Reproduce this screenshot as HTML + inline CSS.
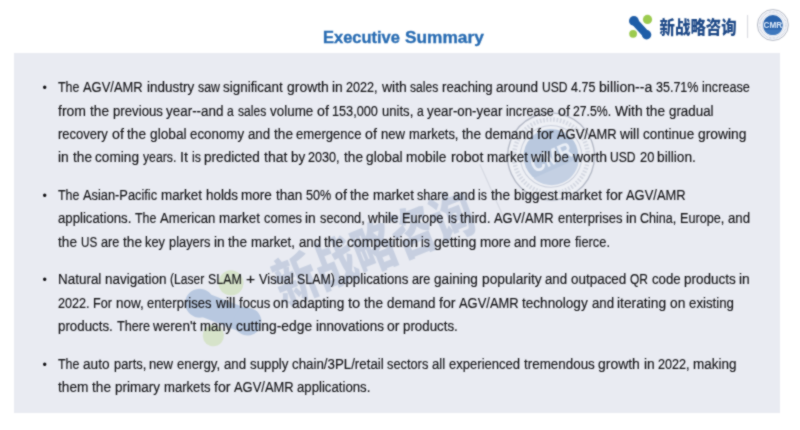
<!DOCTYPE html>
<html lang="en">
<head>
<meta charset="utf-8">
<title>Executive Summary</title>
<style>
  html,body{margin:0;padding:0;background:#fff;}
  body{width:800px;height:430px;position:relative;overflow:hidden;font-family:"Liberation Sans","Noto Sans CJK SC",sans-serif;}
  .title{position:absolute;left:0;top:26.56px;margin:0;font-size:15.7px;line-height:22px;height:22px;font-weight:bold;color:#2a6db3;-webkit-text-stroke:0.35px #2a6db3;white-space:nowrap;}
  .title span{position:absolute;top:0;transform-origin:0 0;white-space:pre;}
  .panel{position:absolute;left:14px;top:53px;width:766px;height:360px;background:#e9ebf2;}
  .wm,.logo{position:absolute;left:0;top:0;width:800px;height:430px;}
  ul{list-style:none;margin:0;padding:0;}
  .stage{position:absolute;left:0;top:0;width:800px;height:430px;overflow:hidden;background:#fff;filter:url(#soft);}
  .fdef{position:absolute;width:0;height:0;}
  li{display:block;}
  .ln{position:absolute;left:0;height:20px;line-height:20px;font-size:13.8px;color:#141417;white-space:nowrap;-webkit-text-stroke:0.15px #141417;}
  .ln span{position:absolute;top:0;transform-origin:0 0;white-space:pre;}
  .bl{position:absolute;left:39.6px;width:10px;height:20px;line-height:20px;font-size:12.5px;color:#141417;text-align:center;}
</style>
</head>
<body>
<svg class="fdef" width="0" height="0" aria-hidden="true"><filter id="soft" filterUnits="userSpaceOnUse" x="0" y="0" width="800" height="430" color-interpolation-filters="sRGB"><feConvolveMatrix order="3" kernelMatrix="1 2 1 2 10 2 1 2 1" edgeMode="duplicate" preserveAlpha="true"/></filter></svg>
<div class="stage">
<h1 class="title"><span style="left:322.8px;transform:scaleX(1.05)">Executive </span><span style="left:405.1px;transform:scaleX(1.102)">Summary</span></h1>
<div class="panel"></div>
<svg class="wm" viewBox="0 0 800 430" aria-hidden="true">
 <g opacity="0.24" transform="translate(223,311) rotate(-26.5) scale(2.73) translate(-640.3,-27.3)">
    <line x1="634.2" y1="21.2" x2="646.3" y2="34.5" stroke="#1f5ea8" stroke-width="8.8" stroke-linecap="round"/>
    <circle cx="633.9" cy="20.9" r="5.3" fill="#1f5ea8"/>
    <circle cx="646.6" cy="34.8" r="5.1" fill="#1f5ea8"/>
    <circle cx="647.5" cy="19.4" r="4.6" fill="#9ccb4f"/>
    <circle cx="633.1" cy="33.8" r="3.9" fill="#9ccb4f"/>
 </g>
 <g opacity="0.165" transform="translate(373.8,248.0) rotate(-21.8) scale(2.73,3.3852)">
    <text x="-38.64" y="5.92" font-family="'Liberation Sans','Noto Sans CJK SC',sans-serif" font-weight="900" font-size="16.0" fill="#1f4a88" textLength="77.29" lengthAdjust="spacingAndGlyphs">新战略咨询</text>
 </g>
 <g opacity="0.22" transform="translate(492.5,192.5) rotate(-24.0)">
    <line x1="0" y1="-31.0" x2="0" y2="31.0" stroke="#8f96a6" stroke-width="1.2"/>
 </g>
 <g opacity="1" transform="translate(551.0,156.4) rotate(-24.0) scale(2.8) translate(-772.9,-25)">
    <circle cx="772.9" cy="25" r="15.5" fill="#eef0f5" stroke="#b4b9c6" stroke-width="0.5"/>
    <circle cx="772.9" cy="25" r="13.2" fill="none" stroke="#d3d7e1" stroke-width="1.6" stroke-dasharray="0.6 0.6"/>
    <circle cx="772.9" cy="25" r="11.0" fill="none" stroke="#ccd1dd" stroke-width="0.4"/>
    <circle cx="772.9" cy="25" r="9.8" fill="#b9c8de"/>
    <path d="M764.0 29.6 A9.8 9.8 0 0 0 781.8 29.6 Z" fill="#c4d0e3"/>
    <text x="772.9" y="28.1" text-anchor="middle" font-family="'Liberation Sans',sans-serif" font-weight="bold" font-size="8.0" fill="#e9eef6" textLength="15.6" lengthAdjust="spacingAndGlyphs">CMR</text>
 </g>
</svg>
<svg class="logo" viewBox="0 0 800 430">
  <g>
    <line x1="634.2" y1="21.2" x2="646.3" y2="34.5" stroke="#1f5ea8" stroke-width="7.6" stroke-linecap="round"/>
    <circle cx="633.9" cy="20.9" r="4.9" fill="#1f5ea8"/>
    <circle cx="646.6" cy="34.8" r="4.7" fill="#1f5ea8"/>
    <circle cx="647.5" cy="19.4" r="4.6" fill="#9ccb4f"/>
    <circle cx="633.1" cy="33.8" r="3.9" fill="#9ccb4f"/>
    <text x="659.6" y="34.0" font-family="'Liberation Sans','Noto Sans CJK SC',sans-serif" font-weight="900" font-size="15.4" fill="#1f4a88" textLength="77" lengthAdjust="spacingAndGlyphs" transform="translate(0,34.0) scale(1,1.17) translate(0,-34.0)">新战略咨询</text>
    <line x1="747.6" y1="15" x2="747.6" y2="38" stroke="#c9ccd3" stroke-width="0.8"/>
    <circle cx="772.9" cy="25" r="15.5" fill="#f8f9fc" stroke="#a3a9b8" stroke-width="0.8"/>
    <circle cx="772.9" cy="25" r="13.1" fill="none" stroke="#c6ccdb" stroke-width="1.5" stroke-dasharray="0.7 0.7"/>
    <circle cx="772.9" cy="25" r="11.2" fill="none" stroke="#c3cadb" stroke-width="0.5"/>
    <circle cx="772.9" cy="25" r="9.9" fill="#2a64ad"/>
    <path d="M764.0 29.4 A9.9 9.9 0 0 0 781.8 29.4 Z" fill="#3f78bd"/>
    <text x="772.9" y="28.3" text-anchor="middle" font-family="'Liberation Sans',sans-serif" font-weight="bold" font-size="9.4" fill="#e4eefa" textLength="18.6" lengthAdjust="spacingAndGlyphs">CMR</text>
  </g>
</svg>
<ul>
<li><span class="bl" style="top:78.47px">&bull;</span><div class="ln" style="top:78.47px"><span style="left:58.30px;transform:scaleX(0.9017)">The </span><span style="left:83.39px;transform:scaleX(0.9369)">AGV/AMR </span><span style="left:146.65px;transform:scaleX(0.9783)">industry </span><span style="left:197.56px;transform:scaleX(0.8966)">saw </span><span style="left:223.21px;transform:scaleX(0.9736)">significant </span><span style="left:286.59px;transform:scaleX(1.0109)">growth </span><span style="left:332.11px;transform:scaleX(0.9989)">in </span><span style="left:346.49px;transform:scaleX(0.9137)">2022, </span><span style="left:381.68px;transform:scaleX(1.0122)">with </span><span style="left:410.17px;transform:scaleX(0.8761)">sales </span><span style="left:442.04px;transform:scaleX(0.9555)">reaching </span><span style="left:496.26px;transform:scaleX(0.9786)">around </span><span style="left:541.95px;transform:scaleX(0.8756)">USD </span><span style="left:571.11px;transform:scaleX(0.9079)">4.75 </span><span style="left:599.14px;transform:scaleX(1.0239)">billion--a </span><span style="left:656.19px;transform:scaleX(0.9066)">35.71% </span><span style="left:702.25px;transform:scaleX(0.9171)">increase</span></div>
<div class="ln" style="top:101.72px"><span style="left:58.30px;transform:scaleX(1.0161)">from </span><span style="left:89.99px;transform:scaleX(0.9894)">the </span><span style="left:112.62px;transform:scaleX(0.9575)">previous </span><span style="left:166.20px;transform:scaleX(0.9736)">year--and </span><span style="left:227.34px;transform:scaleX(0.8800)">a </span><span style="left:237.75px;transform:scaleX(0.8761)">sales </span><span style="left:269.62px;transform:scaleX(0.9739)">volume </span><span style="left:316.59px;transform:scaleX(1.0379)">of </span><span style="left:332.18px;transform:scaleX(0.9200)">153,000 </span><span style="left:381.71px;transform:scaleX(0.9485)">units, </span><span style="left:416.64px;transform:scaleX(0.8800)">a </span><span style="left:427.04px;transform:scaleX(0.9646)">year-on-year </span><span style="left:506.14px;transform:scaleX(0.9171)">increase </span><span style="left:557.61px;transform:scaleX(1.0379)">of </span><span style="left:573.21px;transform:scaleX(0.8877)">27.5%. </span><span style="left:614.99px;transform:scaleX(1.0017)">With </span><span style="left:646.29px;transform:scaleX(0.9894)">the </span><span style="left:668.92px;transform:scaleX(0.9679)">gradual</span></div>
<div class="ln" style="top:125.02px"><span style="left:58.30px;transform:scaleX(0.9427)">recovery </span><span style="left:111.82px;transform:scaleX(1.0379)">of </span><span style="left:127.41px;transform:scaleX(0.9894)">the </span><span style="left:150.03px;transform:scaleX(0.9949)">global </span><span style="left:190.32px;transform:scaleX(0.9659)">economy </span><span style="left:248.03px;transform:scaleX(0.9601)">and </span><span style="left:273.79px;transform:scaleX(0.9894)">the </span><span style="left:296.41px;transform:scaleX(0.9478)">emergence </span><span style="left:365.48px;transform:scaleX(1.0379)">of </span><span style="left:381.08px;transform:scaleX(0.9513)">new </span><span style="left:408.80px;transform:scaleX(0.9348)">markets, </span><span style="left:461.90px;transform:scaleX(0.9894)">the </span><span style="left:484.53px;transform:scaleX(0.9702)">demand </span><span style="left:536.54px;transform:scaleX(1.0293)">for </span><span style="left:556.76px;transform:scaleX(0.9369)">AGV/AMR </span><span style="left:620.03px;transform:scaleX(1.0047)">will </span><span style="left:642.93px;transform:scaleX(0.9808)">continue </span><span style="left:697.75px;transform:scaleX(1.0019)">growing</span></div>
<div class="ln" style="top:148.27px"><span style="left:58.30px;transform:scaleX(0.9989)">in </span><span style="left:72.68px;transform:scaleX(0.9894)">the </span><span style="left:95.31px;transform:scaleX(0.9885)">coming </span><span style="left:142.92px;transform:scaleX(0.8856)">years. </span><span style="left:179.84px;transform:scaleX(1.0485)">It </span><span style="left:191.53px;transform:scaleX(0.8890)">is </span><span style="left:204.03px;transform:scaleX(0.9846)">predicted </span><span style="left:263.56px;transform:scaleX(1.0121)">that </span><span style="left:290.50px;transform:scaleX(0.9753)">by </span><span style="left:308.36px;transform:scaleX(0.9137)">2030, </span><span style="left:343.55px;transform:scaleX(0.9894)">the </span><span style="left:366.18px;transform:scaleX(0.9949)">global </span><span style="left:406.46px;transform:scaleX(0.9956)">mobile </span><span style="left:450.58px;transform:scaleX(1.0343)">robot </span><span style="left:486.76px;transform:scaleX(0.9706)">market </span><span style="left:531.33px;transform:scaleX(1.0047)">will </span><span style="left:554.24px;transform:scaleX(0.9620)">be </span><span style="left:572.66px;transform:scaleX(1.0087)">worth </span><span style="left:610.34px;transform:scaleX(0.8756)">USD </span><span style="left:639.50px;transform:scaleX(0.9333)">20 </span><span style="left:657.48px;transform:scaleX(0.9939)">billion.</span></div>
</li>
<li><span class="bl" style="top:186.02px">&bull;</span><div class="ln" style="top:186.02px"><span style="left:58.30px;transform:scaleX(0.9017)">The </span><span style="left:83.39px;transform:scaleX(0.9295)">Asian-Pacific </span><span style="left:161.16px;transform:scaleX(0.9706)">market </span><span style="left:205.73px;transform:scaleX(0.9702)">holds </span><span style="left:241.37px;transform:scaleX(0.9813)">more </span><span style="left:275.87px;transform:scaleX(0.9794)">than </span><span style="left:305.81px;transform:scaleX(0.9125)">50% </span><span style="left:334.67px;transform:scaleX(1.0379)">of </span><span style="left:350.26px;transform:scaleX(0.9894)">the </span><span style="left:372.89px;transform:scaleX(0.9706)">market </span><span style="left:417.46px;transform:scaleX(0.9130)">share </span><span style="left:452.62px;transform:scaleX(0.9601)">and </span><span style="left:478.37px;transform:scaleX(0.8890)">is </span><span style="left:490.87px;transform:scaleX(0.9894)">the </span><span style="left:513.50px;transform:scaleX(0.9843)">biggest </span><span style="left:560.94px;transform:scaleX(0.9706)">market </span><span style="left:605.52px;transform:scaleX(1.0293)">for </span><span style="left:625.74px;transform:scaleX(0.9369)">AGV/AMR</span></div>
<div class="ln" style="top:209.27px"><span style="left:58.30px;transform:scaleX(0.9557)">applications. </span><span style="left:135.25px;transform:scaleX(0.9017)">The </span><span style="left:160.33px;transform:scaleX(0.9485)">American </span><span style="left:219.25px;transform:scaleX(0.9706)">market </span><span style="left:263.83px;transform:scaleX(0.9352)">comes </span><span style="left:305.48px;transform:scaleX(0.9989)">in </span><span style="left:319.86px;transform:scaleX(0.9262)">second, </span><span style="left:368.26px;transform:scaleX(0.9703)">while </span><span style="left:402.42px;transform:scaleX(0.9312)">Europe </span><span style="left:447.51px;transform:scaleX(0.8890)">is </span><span style="left:460.01px;transform:scaleX(0.9966)">third. </span><span style="left:494.24px;transform:scaleX(0.9369)">AGV/AMR </span><span style="left:557.50px;transform:scaleX(0.9446)">enterprises </span><span style="left:625.63px;transform:scaleX(0.9989)">in </span><span style="left:640.01px;transform:scaleX(0.9059)">China, </span><span style="left:679.78px;transform:scaleX(0.9171)">Europe, </span><span style="left:727.75px;transform:scaleX(0.9601)">and</span></div>
<div class="ln" style="top:232.57px"><span style="left:58.30px;transform:scaleX(0.9894)">the </span><span style="left:80.93px;transform:scaleX(0.8445)">US </span><span style="left:100.76px;transform:scaleX(0.9198)">are </span><span style="left:122.75px;transform:scaleX(0.9894)">the </span><span style="left:145.38px;transform:scaleX(0.9292)">key </span><span style="left:168.99px;transform:scaleX(0.9314)">players </span><span style="left:214.06px;transform:scaleX(0.9989)">in </span><span style="left:228.44px;transform:scaleX(0.9894)">the </span><span style="left:251.07px;transform:scaleX(0.9525)">market, </span><span style="left:298.52px;transform:scaleX(0.9601)">and </span><span style="left:324.28px;transform:scaleX(0.9894)">the </span><span style="left:346.90px;transform:scaleX(1.0054)">competition </span><span style="left:421.49px;transform:scaleX(0.8890)">is </span><span style="left:433.99px;transform:scaleX(1.0225)">getting </span><span style="left:480.00px;transform:scaleX(0.9813)">more </span><span style="left:514.49px;transform:scaleX(0.9601)">and </span><span style="left:540.25px;transform:scaleX(0.9813)">more </span><span style="left:574.74px;transform:scaleX(0.9302)">fierce.</span></div>
</li>
<li><span class="bl" style="top:270.27px">&bull;</span><div class="ln" style="top:270.27px"><span style="left:58.30px;transform:scaleX(0.9745)">Natural </span><span style="left:105.29px;transform:scaleX(0.9775)">navigation </span><span style="left:170.43px;transform:scaleX(0.8762)">(Laser </span><span style="left:208.33px;transform:scaleX(0.9003)">SLAM </span><span style="left:245.81px;transform:scaleX(1.1281)">+ </span><span style="left:258.55px;transform:scaleX(0.9271)">Visual </span><span style="left:296.81px;transform:scaleX(0.8974)">SLAM) </span><span style="left:338.30px;transform:scaleX(0.9663)">applications </span><span style="left:412.36px;transform:scaleX(0.9198)">are </span><span style="left:434.35px;transform:scaleX(0.9865)">gaining </span><span style="left:481.90px;transform:scaleX(0.9976)">popularity </span><span style="left:545.22px;transform:scaleX(0.9601)">and </span><span style="left:570.98px;transform:scaleX(0.9744)">outpaced </span><span style="left:629.94px;transform:scaleX(0.8683)">QR </span><span style="left:651.56px;transform:scaleX(0.9599)">code </span><span style="left:683.93px;transform:scaleX(0.9802)">products </span><span style="left:739.44px;transform:scaleX(0.9989)">in</span></div>
<div class="ln" style="top:293.57px"><span style="left:58.30px;transform:scaleX(0.9137)">2022. </span><span style="left:93.49px;transform:scaleX(0.9132)">For </span><span style="left:116.04px;transform:scaleX(0.9790)">now, </span><span style="left:147.48px;transform:scaleX(0.9446)">enterprises </span><span style="left:215.60px;transform:scaleX(1.0047)">will </span><span style="left:238.50px;transform:scaleX(0.9475)">focus </span><span style="left:273.40px;transform:scaleX(0.9967)">on </span><span style="left:292.35px;transform:scaleX(0.9870)">adapting </span><span style="left:348.24px;transform:scaleX(1.0678)">to </span><span style="left:364.18px;transform:scaleX(0.9894)">the </span><span style="left:386.80px;transform:scaleX(0.9702)">demand </span><span style="left:438.82px;transform:scaleX(1.0293)">for </span><span style="left:459.04px;transform:scaleX(0.9369)">AGV/AMR </span><span style="left:522.31px;transform:scaleX(0.9841)">technology </span><span style="left:591.63px;transform:scaleX(0.9601)">and </span><span style="left:617.38px;transform:scaleX(1.0012)">iterating </span><span style="left:670.18px;transform:scaleX(0.9967)">on </span><span style="left:689.13px;transform:scaleX(0.9619)">existing</span></div>
<div class="ln" style="top:316.82px"><span style="left:58.30px;transform:scaleX(0.9646)">products. </span><span style="left:116.70px;transform:scaleX(0.9164)">There </span><span style="left:153.37px;transform:scaleX(0.9824)">weren&#x27;t </span><span style="left:200.28px;transform:scaleX(0.9528)">many </span><span style="left:236.08px;transform:scaleX(1.0026)">cutting-edge </span><span style="left:315.86px;transform:scaleX(0.9719)">innovations </span><span style="left:387.35px;transform:scaleX(1.0113)">or </span><span style="left:403.41px;transform:scaleX(0.9646)">products.</span></div>
</li>
<li><span class="bl" style="top:354.57px">&bull;</span><div class="ln" style="top:354.57px"><span style="left:58.30px;transform:scaleX(0.9017)">The </span><span style="left:83.39px;transform:scaleX(0.9896)">auto </span><span style="left:113.61px;transform:scaleX(0.9341)">parts, </span><span style="left:149.49px;transform:scaleX(0.9513)">new </span><span style="left:177.21px;transform:scaleX(0.9595)">energy, </span><span style="left:224.03px;transform:scaleX(0.9601)">and </span><span style="left:249.79px;transform:scaleX(0.9630)">supply </span><span style="left:291.84px;transform:scaleX(0.9642)">chain/3PL/retail </span><span style="left:387.19px;transform:scaleX(0.9286)">sectors </span><span style="left:432.14px;transform:scaleX(0.9560)">all </span><span style="left:448.99px;transform:scaleX(0.9458)">experienced </span><span style="left:523.72px;transform:scaleX(0.9721)">tremendous </span><span style="left:598.19px;transform:scaleX(1.0109)">growth </span><span style="left:643.71px;transform:scaleX(0.9989)">in </span><span style="left:658.09px;transform:scaleX(0.9137)">2022, </span><span style="left:693.28px;transform:scaleX(0.9758)">making</span></div>
<div class="ln" style="top:377.82px"><span style="left:58.30px;transform:scaleX(0.9924)">them </span><span style="left:92.40px;transform:scaleX(0.9894)">the </span><span style="left:115.02px;transform:scaleX(0.9768)">primary </span><span style="left:163.60px;transform:scaleX(0.9490)">markets </span><span style="left:213.81px;transform:scaleX(1.0293)">for </span><span style="left:234.04px;transform:scaleX(0.9369)">AGV/AMR </span><span style="left:297.30px;transform:scaleX(0.9557)">applications.</span></div>
</li>
</ul>
</div>
</body>
</html>
